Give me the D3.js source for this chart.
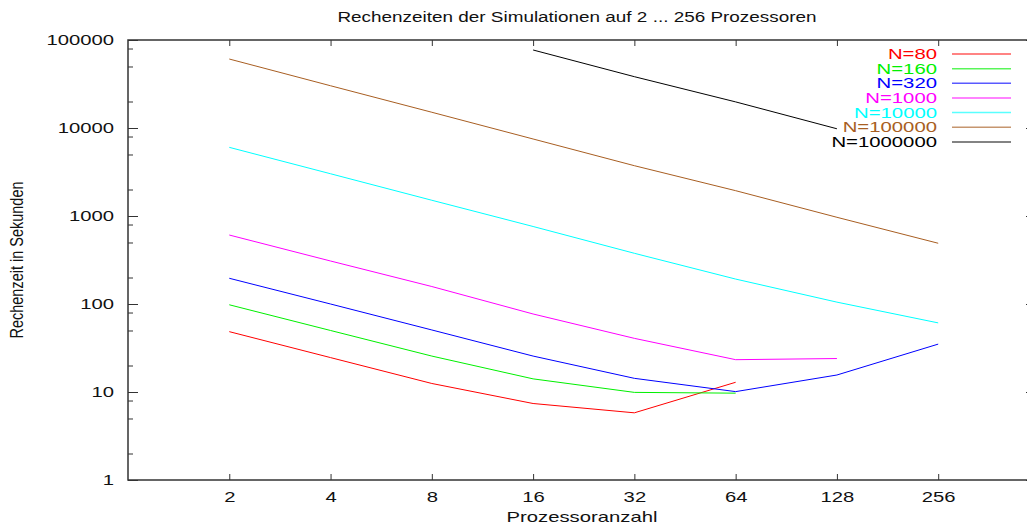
<!DOCTYPE html>
<html>
<head>
<meta charset="utf-8">
<script src="https://cdn.jsdelivr.net/npm/d3@7"></script>
<style>
body { margin: 0; background: #fff; }
text { font-family: "Liberation Sans", Arial, sans-serif; }
</style>
</head>
<body>
<script>
// Prozessoranzahl (x) und Rechenzeiten (y) je Problemgroesse
var procs = [2, 4, 8, 16, 32, 64, 128, 256];
var n80      = [48.5, 24.6, 12.5, 7.4, 5.8, 12.9];
var n160     = [98, 50, 25.6, 14.1, 9.9, 9.7];
var n320     = [196, 100, 50.7, 25.6, 14.3, 10.1, 15.6, 35];
var n1000    = [608, 308, 158, 77, 40.7, 23.3, 24];
var n10000   = [6030, 3020, 1510, 760, 377, 192, 105, 61];
var n100000  = [60800, 30200, 15100, 7500, 3730, 1940, 967, 490];
var n1000000 = [77000, 38300, 19800, 9800];
var n1000000_procs = [16, 32, 64, 128];

var labels = ["N=80", "N=160", "N=320", "N=1000", "N=10000", "N=100000", "N=1000000"];
var colors = ["#ff0000", "#00f000", "#0000ff", "#ff00ff", "#00ffff", "#a85e22", "#000000"];
var yTicks = [1, 10, 100, 1000, 10000, 100000];

var width = 1027, height = 524;
var plotLeft = 128, plotRight = 1036, plotTop = 40, plotBottom = 480;
var stretch = 1.35;

var series = [
  {x: procs.slice(0, n80.length), y: n80},
  {x: procs.slice(0, n160.length), y: n160},
  {x: procs, y: n320},
  {x: procs.slice(0, n1000.length), y: n1000},
  {x: procs, y: n10000},
  {x: procs, y: n100000},
  {x: n1000000_procs, y: n1000000}
];

var svg = d3.select("body").append("svg")
  .attr("width", width)
  .attr("height", height);

var x = d3.scaleLog().base(2).domain([1, 500]).range([plotLeft, plotRight]);
var y = d3.scaleLog().domain([1, 100000]).range([plotBottom, plotTop]);

// widen text like the old postscript output
function widen(sel, k) {
  k = k || stretch;
  sel.each(function() {
    var len = this.getComputedTextLength();
    d3.select(this).attr("textLength", len * k).attr("lengthAdjust", "spacingAndGlyphs");
  });
}

var minor = [];
yTicks.slice(0, -1).forEach(function(d) { minor.push(d * 2, d * 5, d * 8); });

function styleAxis(g) {
  g.select(".domain").remove();
  g.selectAll("line").attr("stroke", "#333");
  g.selectAll("text").attr("fill", "#111").style("font-size", "15px");
}

// bottom axis
svg.append("g")
  .attr("transform", "translate(0," + plotBottom + ")")
  .call(d3.axisBottom(x).tickValues(procs).tickFormat(d3.format("d")).tickSize(-6).tickPadding(11))
  .call(styleAxis)
  .selectAll("text").call(widen);

// top axis
svg.append("g")
  .attr("transform", "translate(0," + plotTop + ")")
  .call(d3.axisTop(x).tickValues(procs).tickFormat("").tickSize(-6))
  .call(styleAxis);

// left axis
svg.append("g")
  .attr("transform", "translate(" + plotLeft + ",0)")
  .call(d3.axisLeft(y).tickValues(yTicks).tickFormat(d3.format("d")).tickSize(-10).tickPadding(14))
  .call(styleAxis)
  .selectAll("text").call(widen);

svg.append("g")
  .attr("transform", "translate(" + plotLeft + ",0)")
  .call(d3.axisLeft(y).tickValues(minor).tickFormat("").tickSize(-5))
  .call(styleAxis);

// right axis
svg.append("g")
  .attr("transform", "translate(" + plotRight + ",0)")
  .call(d3.axisRight(y).tickValues(yTicks).tickFormat("").tickSize(-10))
  .call(styleAxis);

svg.append("g")
  .attr("transform", "translate(" + plotRight + ",0)")
  .call(d3.axisRight(y).tickValues(minor).tickFormat("").tickSize(-5))
  .call(styleAxis);

// border
svg.append("rect")
  .attr("x", plotLeft).attr("y", plotTop)
  .attr("width", plotRight - plotLeft).attr("height", plotBottom - plotTop)
  .attr("fill", "none").attr("stroke", "#333").attr("stroke-width", 1.5);

// lines
var line = d3.line()
  .x(function(d) { return x(d[0]); })
  .y(function(d) { return y(d[1]); });

svg.selectAll(".series")
  .data(series)
  .enter()
  .append("path")
  .attr("class", "series")
  .attr("d", function(s) { return line(s.x.map(function(v, i) { return [v, s.y[i]]; })); })
  .attr("fill", "none")
  .attr("stroke", function(s, i) { return colors[i]; })
  .attr("stroke-width", 1);

// legend
var legend = svg.selectAll(".legend")
  .data(labels)
  .enter()
  .append("g")
  .attr("class", "legend")
  .attr("transform", function(d, i) { return "translate(0," + (54 + i * 14.65) + ")"; });

legend.append("text")
  .attr("x", 937)
  .attr("dy", "0.36em")
  .attr("text-anchor", "end")
  .style("font-size", "14px")
  .attr("fill", function(d, i) { return colors[i]; })
  .text(function(d) { return d; })
  .call(widen, 1.45);

legend.append("line")
  .attr("x1", 952).attr("x2", 1011)
  .attr("stroke", function(d, i) { return colors[i]; })
  .attr("stroke-width", 1.5)
  .attr("stroke-opacity", 0.65);

// titles
svg.append("text")
  .attr("x", 577).attr("y", 22)
  .attr("text-anchor", "middle")
  .style("font-size", "14px")
  .attr("fill", "#111")
  .text("Rechenzeiten der Simulationen auf 2 ... 256 Prozessoren")
  .call(widen);

svg.append("text")
  .attr("x", 582).attr("y", 522)
  .attr("text-anchor", "middle")
  .style("font-size", "15px")
  .attr("fill", "#111")
  .text("Prozessoranzahl")
  .call(widen);

svg.append("text")
  .attr("transform", "translate(23,260) rotate(-90)")
  .attr("text-anchor", "middle")
  .style("font-size", "18px")
  .attr("fill", "#111")
  .attr("textLength", 157)
  .attr("lengthAdjust", "spacingAndGlyphs")
  .text("Rechenzeit in Sekunden");
</script>
</body>
</html>
